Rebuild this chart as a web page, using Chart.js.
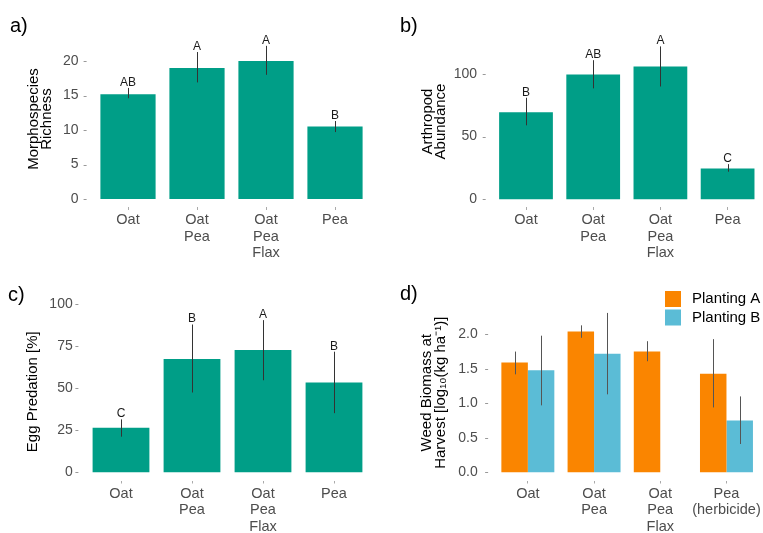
<!DOCTYPE html>
<html lang="en">
<head>
    <meta charset="UTF-8">
    <title>Intercropping panels</title>
    <script src="https://cdn.jsdelivr.net/npm/chart.js"></script>
    <style>
        body { margin: 0; background: #fff; }
        #wrap { position: relative; width: 763px; height: 533px; }
        canvas { position: absolute; }
    </style>
</head>
<body>
<div id="wrap">
    <canvas id="chart-a" width="381" height="266" style="left:0;top:0"></canvas>
    <canvas id="chart-b" width="382" height="266" style="left:381px;top:0"></canvas>
    <canvas id="chart-c" width="381" height="267" style="left:0;top:266px"></canvas>
    <canvas id="chart-d" width="382" height="267" style="left:381px;top:266px"></canvas>
</div>
<script>
    // categories
    const cropLabels = [['Oat'], ['Oat', 'Pea'], ['Oat', 'Pea', 'Flax'], ['Pea']];
    const weedLabels = [['Oat'], ['Oat', 'Pea'], ['Oat', 'Pea', 'Flax'], ['Pea', '(herbicide)']];

    // a) morphospecies richness
    const richness = [15.2, 19.0, 20.0, 10.5];
    const richnessLow = [14.6, 16.9, 18.0, 9.7];
    const richnessHigh = [16.1, 21.3, 22.2, 11.3];
    const richnessLetters = ['AB', 'A', 'A', 'B'];
    const richnessTicks = [0, 5, 10, 15, 20];

    // b) arthropod abundance
    const abundance = [69.5, 99.5, 106, 24.5];
    const abundanceLow = [59, 88.5, 90, 22];
    const abundanceHigh = [81, 111, 122, 28];
    const abundanceLetters = ['B', 'AB', 'A', 'C'];
    const abundanceTicks = [0, 50, 100];

    // c) egg predation
    const predation = [26.5, 67.5, 72.8, 53.5];
    const predationLow = [21.2, 47.5, 54.8, 35.2];
    const predationHigh = [31.5, 88, 90.6, 71.8];
    const predationLetters = ['C', 'B', 'A', 'B'];
    const predationTicks = [0, 25, 50, 75, 100];

    // d) weed biomass, two plantings
    const weedA = [1.59, 2.04, 1.75, 1.43];
    const weedALow = [1.42, 1.95, 1.61, 0.94];
    const weedAHigh = [1.75, 2.13, 1.90, 1.93];
    const weedB = [1.48, 1.72, null, 0.75];
    const weedBLow = [0.97, 1.13, null, 0.41];
    const weedBHigh = [1.98, 2.31, null, 1.10];
    const weedTicks = [0, 0.5, 1, 1.5, 2];

    const FONT = "'Liberation Sans', Arial, sans-serif";
    const TEAL = '#009E87';
    const ORANGE = '#FA8500';
    const BLUE = '#5BBCD6';

    // error bars, letters, panel tag, y tick marks, legend
    const decor = {
        id: 'decor',
        afterDatasetsDraw(chart, args, opts) {
            const ctx = chart.ctx;
            const area = chart.chartArea;
            const yScale = chart.scales.y;
            ctx.save();
            chart.data.datasets.forEach((ds, i) => {
                const meta = chart.getDatasetMeta(i);
                meta.data.forEach((el, j) => {
                    if (ds.errHigh[j] == null) return;
                    const top = yScale.getPixelForValue(ds.errHigh[j]);
                    const bot = yScale.getPixelForValue(ds.errLow[j]);
                    ctx.strokeStyle = opts.errColor || '#333';
                    ctx.lineWidth = 1;
                    ctx.beginPath();
                    ctx.moveTo(Math.round(el.x) + 0.5, top);
                    ctx.lineTo(Math.round(el.x) + 0.5, bot);
                    ctx.stroke();
                    if (ds.letters) {
                        ctx.fillStyle = '#1a1a1a';
                        ctx.font = '12px ' + FONT;
                        ctx.textAlign = 'center';
                        ctx.textBaseline = 'alphabetic';
                        ctx.fillText(ds.letters[j], el.x, top - 2);
                    }
                });
            });

            // y tick marks at the panel edge
            const spacing = (area.right - area.left) / 4;
            const edge = area.left - 0.1 * spacing;
            ctx.strokeStyle = '#999';
            yScale.ticks.forEach(t => {
                const y = Math.round(yScale.getPixelForValue(t.value)) + 0.5;
                ctx.beginPath();
                ctx.moveTo(edge - 3, y);
                ctx.lineTo(edge, y);
                ctx.stroke();
            });

            ctx.fillStyle = '#000';
            ctx.font = '20px ' + FONT;
            ctx.textAlign = 'left';
            ctx.textBaseline = 'alphabetic';
            ctx.fillText(opts.tag, opts.tagX, opts.tagY);

            if (opts.legend) {
                ctx.font = '15px ' + FONT;
                ctx.textBaseline = 'middle';
                chart.data.datasets.forEach((ds, i) => {
                    const y = opts.legendY + i * 18.5;
                    ctx.fillStyle = ds.backgroundColor;
                    ctx.fillRect(opts.legendX, y, 16, 16);
                    ctx.fillStyle = '#000';
                    ctx.fillText(ds.label, opts.legendX + 27, y + 8);
                });
            }
            ctx.restore();
        }
    };

    function panel(id, cfg) {
        const canvas = document.getElementById(id);
        return new Chart(canvas, {
            type: 'bar',
            data: { labels: cfg.labels, datasets: cfg.datasets },
            options: {
                responsive: false,
                animation: false,
                devicePixelRatio: 1,
                layout: { padding: { top: cfg.top, right: cfg.right, bottom: 0, left: 0 } },
                plugins: {
                    legend: { display: false },
                    tooltip: { enabled: false },
                    decor: cfg.decor
                },
                scales: {
                    x: {
                        offset: true,
                        afterFit: s => { s.height = cfg.xHeight; },
                        border: { display: false },
                        grid: { display: true, drawOnChartArea: false, drawTicks: true, tickLength: 3, color: '#aaa', offset: false },
                        ticks: { color: '#4D4D4D', font: { family: FONT, size: 14.5, lineHeight: 1.14 }, padding: 2, maxRotation: 0, autoSkip: false }
                    },
                    y: {
                        min: cfg.min,
                        max: cfg.max,
                        afterFit: s => { s.width = cfg.yWidth; },
                        afterBuildTicks: s => { s.ticks = cfg.ticks.map(v => ({ value: v })); },
                        border: { display: false },
                        grid: { display: false, drawTicks: false },
                        ticks: { color: '#4D4D4D', font: { family: FONT, size: 14 }, padding: cfg.tickPad, callback: cfg.fmt || (v => v) },
                        title: {
                            display: true,
                            text: cfg.title,
                            color: '#000',
                            font: { family: FONT, size: 15, lineHeight: 0.9 },
                            padding: { top: cfg.titlePad, bottom: 0 }
                        }
                    }
                }
            },
            plugins: [decor]
        });
    }

    panel('chart-a', {
        labels: cropLabels,
        datasets: [{ data: richness, errLow: richnessLow, errHigh: richnessHigh, letters: richnessLetters,
            backgroundColor: TEAL, categoryPercentage: 1, barPercentage: 0.8 }],
        top: 31, right: 11.5, xHeight: 59, yWidth: 93.5,
        min: -1.16, max: 24.35, ticks: richnessTicks, tickPad: 15,
        title: ['Morphospecies', 'Richness'], titlePad: 27,
        decor: { tag: 'a)', tagX: 10, tagY: 32 }
    });

    panel('chart-b', {
        labels: cropLabels,
        datasets: [{ data: abundance, errLow: abundanceLow, errHigh: abundanceHigh, letters: abundanceLetters,
            backgroundColor: TEAL, categoryPercentage: 1, barPercentage: 0.8 }],
        top: 36, right: 1.8, xHeight: 59, yWidth: 111.4,
        min: -6.2, max: 130.3, ticks: abundanceTicks, tickPad: 15.4,
        title: ['Arthropod', 'Abundance'], titlePad: 40,
        decor: { tag: 'b)', tagX: 19, tagY: 32 }
    });

    panel('chart-c', {
        labels: cropLabels,
        datasets: [{ data: predation, errLow: predationLow, errHigh: predationHigh, letters: predationLetters,
            backgroundColor: TEAL, categoryPercentage: 1, barPercentage: 0.8 }],
        top: 37, right: 11.5, xHeight: 52.5, yWidth: 85.5,
        min: -4.9, max: 100.8, ticks: predationTicks, tickPad: 12.8,
        title: 'Egg Predation [%]', titlePad: 26,
        decor: { tag: 'c)', tagX: 8, tagY: 35 }
    });

    panel('chart-d', {
        labels: weedLabels,
        datasets: [
            { label: 'Planting A', data: weedA, errLow: weedALow, errHigh: weedAHigh,
                backgroundColor: ORANGE, categoryPercentage: 0.8, barPercentage: 1 },
            { label: 'Planting B', data: weedB, errLow: weedBLow, errHigh: weedBHigh,
                backgroundColor: BLUE, categoryPercentage: 0.8, barPercentage: 1 }
        ],
        top: 39, right: 2.25, xHeight: 52.5, yWidth: 113.75,
        min: -0.119, max: 2.425, ticks: weedTicks, tickPad: 17, fmt: v => v.toFixed(1),
        title: ['Weed Biomass at', 'Harvest [log\u2081\u2080(kg ha\u207B\u00B9)]'], titlePad: 39.5,
        decor: { tag: 'd)', tagX: 19, tagY: 34, errColor: '#555', legend: true, legendX: 284, legendY: 25 }
    });
</script>
</body>
</html>
